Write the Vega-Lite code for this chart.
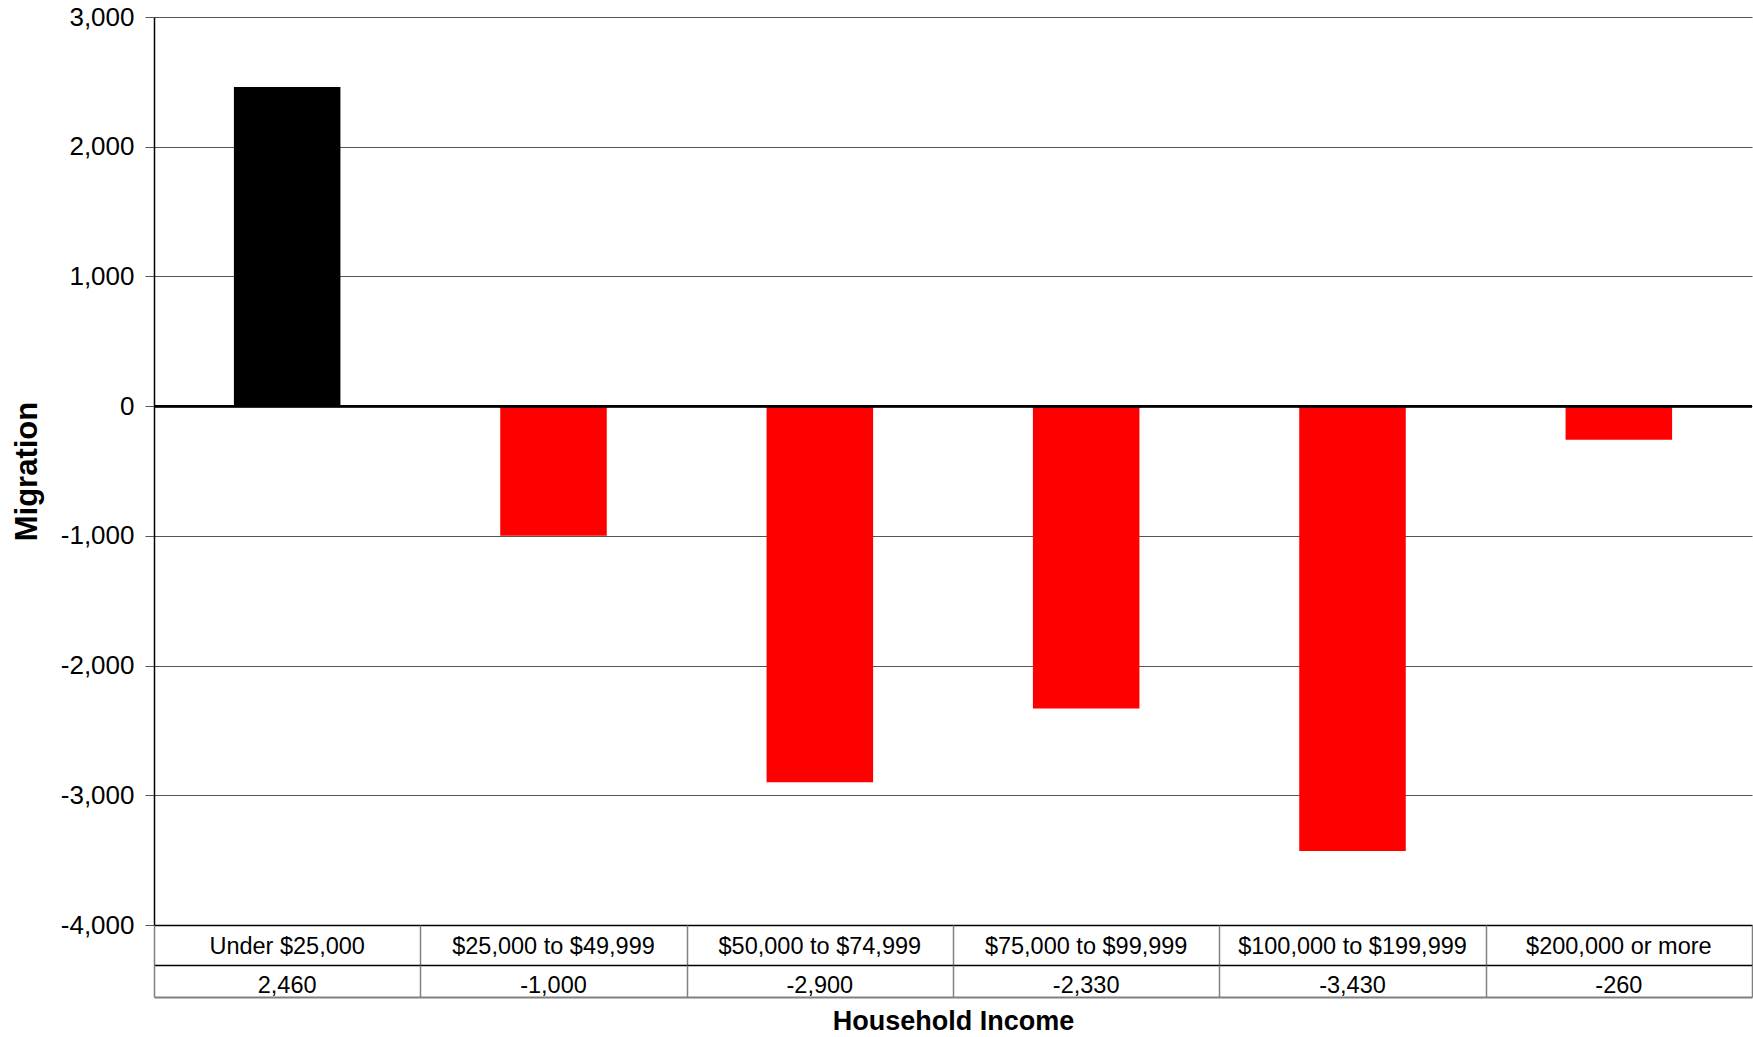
{
  "$schema": "https://vega.github.io/schema/vega-lite/v6.json",
  "padding": {"left": 11, "top": 4, "right": 0, "bottom": 0},
  "background": "white",
  "bounds": "flush",
  "config": {
    "locale": {"number": {"decimal": ".", "thousands": ",", "grouping": [3], "currency": ["$", ""], "minus": "-"}},
    "font": "Liberation Sans",
    "concat": {"spacing": 0},
    "view": {"stroke": null}
  },
  "data": {
    "values": [
      {"income": "Under $25,000", "migration": 2460},
      {"income": "$25,000 to $49,999", "migration": -1000},
      {"income": "$50,000 to $74,999", "migration": -2900},
      {"income": "$75,000 to $99,999", "migration": -2330},
      {"income": "$100,000 to $199,999", "migration": -3430},
      {"income": "$200,000 or more", "migration": -260}
    ]
  },
  "vconcat": [
    {
      "width": 1598,
      "height": 908,
      "layer": [
        {
          "mark": {"type": "bar"},
          "encoding": {
            "x": {
              "field": "income", "type": "nominal", "sort": null,
              "scale": {"paddingInner": 0.6, "paddingOuter": 0.3},
              "axis": {"labels": false, "ticks": false, "title": null, "grid": false, "domainColor": "#000000", "domainWidth": 1.5}
            },
            "y": {
              "field": "migration", "type": "quantitative",
              "scale": {"domain": [-4000, 3000], "nice": false},
              "axis": {
                "values": [-4000, -3000, -2000, -1000, 0, 1000, 2000, 3000],
                "format": ",.0f",
                "title": "Migration",
                "titleFontSize": 31, "titleFontWeight": "bold", "titleColor": "#000000", "titlePadding": 17,
                "labelFontSize": 26, "labelColor": "#000000", "labelPadding": 11,
                "tickSize": 9, "tickColor": "#555555",
                "grid": true, "gridColor": "#555555", "gridWidth": 1,
                "domainColor": "#000000", "domainWidth": 1.5
              }
            },
            "color": {"condition": {"test": "datum.migration > 0", "value": "#000000"}, "value": "#ff0000"}
          }
        },
        {
          "mark": {"type": "rule", "color": "#000000", "strokeWidth": 2},
          "encoding": {"y": {"datum": 0}}
        }
      ]
    },
    {
      "width": 1598,
      "height": 40,
      "mark": {"type": "text", "fontSize": 23.5, "color": "#000000", "dy": 2},
      "encoding": {
        "x": {
          "field": "income", "type": "nominal", "sort": null,
          "scale": {"paddingInner": 0, "paddingOuter": 0},
          "axis": {"orient": "bottom", "labels": false, "ticks": false, "title": null, "domain": true, "domainColor": "#000000", "domainWidth": 1.5, "grid": true, "gridColor": "#808080", "gridWidth": 1.5, "tickBand": "extent"}
        },
        "text": {"field": "income"}
      }
    },
    {
      "width": 1598,
      "height": 32,
      "mark": {"type": "text", "fontSize": 23.5, "color": "#000000", "dy": 5},
      "encoding": {
        "x": {
          "field": "income", "type": "nominal", "sort": null,
          "scale": {"paddingInner": 0, "paddingOuter": 0},
          "axis": {"orient": "bottom", "labels": false, "ticks": false, "domain": true, "domainColor": "#808080", "domainWidth": 2, "grid": true, "gridColor": "#808080", "gridWidth": 1.5, "tickBand": "extent",
                   "title": "Household Income", "titleFontSize": 27, "titleFontWeight": "bold", "titleColor": "#000000", "titlePadding": 11}
        },
        "text": {"field": "migration", "type": "quantitative", "format": ",.0f"}
      }
    }
  ],
  "resolve": {"scale": {"x": "independent"}}
}
